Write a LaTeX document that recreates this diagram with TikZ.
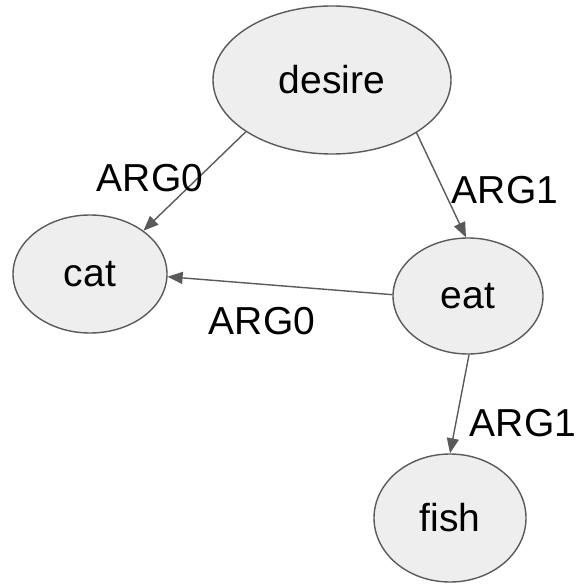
\documentclass[tikz,border=0pt]{standalone}
\usepackage{fontspec}
\setmainfont{Liberation Sans}
\usetikzlibrary{shapes.geometric,arrows.meta}
\definecolor{nodefill}{HTML}{EEEEEE}
\definecolor{edgecol}{HTML}{5A5A5A}
\begin{document}
\begin{tikzpicture}[x=1pt,y=-1pt,
  ell/.style={ellipse,draw=edgecol,line width=1.4pt,fill=nodefill,inner sep=0pt,font=\fontsize{39}{40}\selectfont},
  rel/.style={draw=edgecol,line width=1.4pt,-{Triangle[length=15pt,width=12pt]}},
  lab/.style={font=\fontsize{39}{40}\selectfont,inner sep=0pt}]
\useasboundingbox[fill=white] (0,0) rectangle (576,585);
\node[ell,minimum width=238pt,minimum height=148pt] (desire) at (332,80) {desire};
\node[ell,minimum width=154pt,minimum height=118pt] (cat) at (90,274) {cat};
\node[ell,minimum width=150pt,minimum height=116pt] (eat) at (468,296) {eat};
\node[ell,minimum width=152pt,minimum height=128pt] (fish) at (450,518) {fish};
\draw[rel] (desire.211) -- (cat.39);
\draw[rel] (desire.328) -- (eat.92);
\draw[rel] (eat.179) -- (cat.358);
\draw[rel] (eat.271) -- (fish.90);
\node[lab] (l1) at (150,178) {ARG0};
\node[lab] (l2) at (505,190) {ARG1};
\node[lab] (l3) at (262,321) {ARG0};
\node[lab] (l4) at (523,423) {ARG1};
\end{tikzpicture}
\end{document}
